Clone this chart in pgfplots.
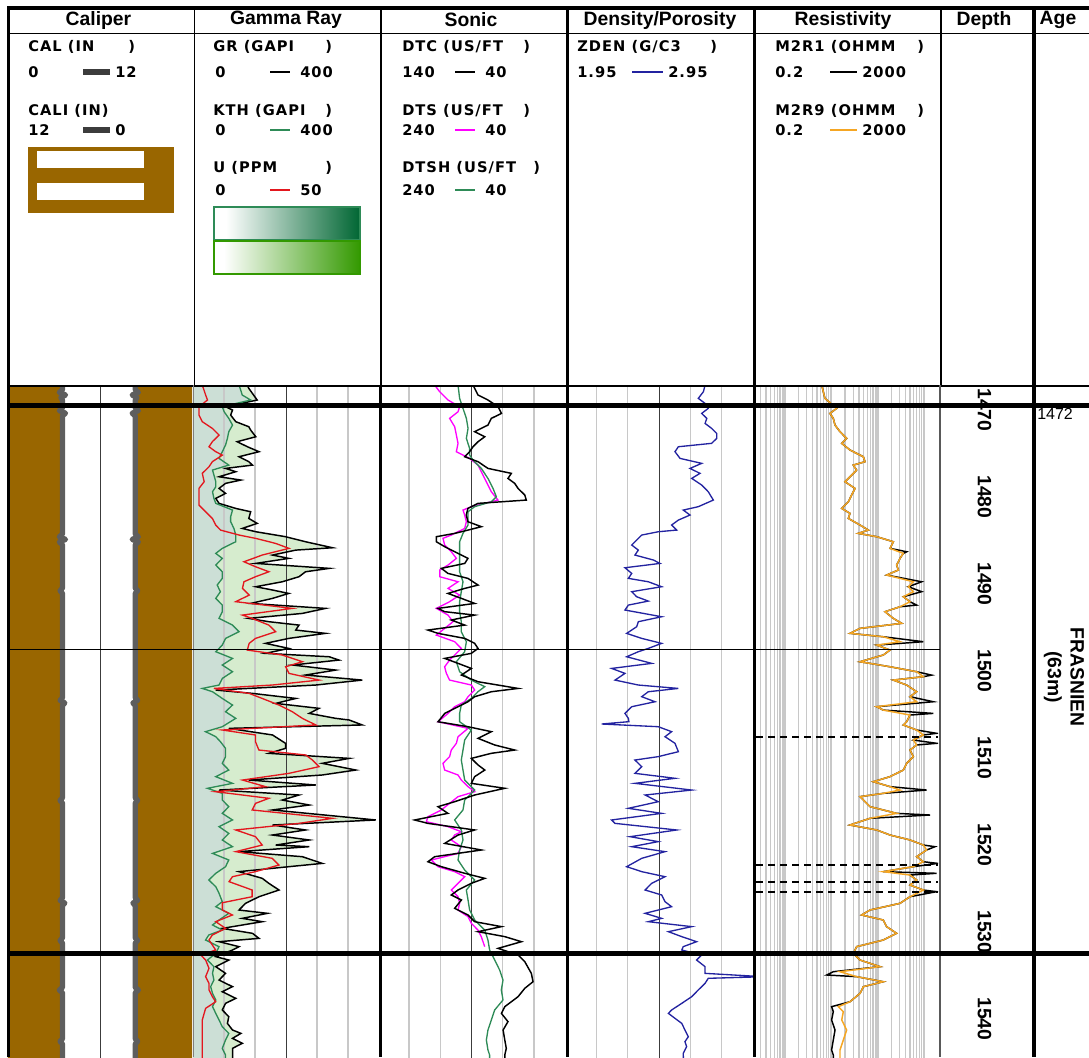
\documentclass[border=0pt]{standalone}
\usepackage{fontspec}
\setmainfont{Liberation Sans}
\newfontfamily\curvefont[LetterSpace=7]{DejaVu Sans}
\usepackage{pgfplots}
\pgfplotsset{compat=1.18}
\usepackage{pgfplotstable}

\definecolor{calbrown}{HTML}{996600}
\definecolor{calgray}{HTML}{5E5E5E}
\definecolor{legbar}{HTML}{3C3C3C}
\definecolor{kthgreen}{HTML}{2E8B57}
\definecolor{kthdark}{HTML}{006633}
\definecolor{grgreen}{HTML}{339900}
\definecolor{ured}{HTML}{E3171E}
\definecolor{dtsmag}{HTML}{FF00FF}
\definecolor{zdenblue}{HTML}{2323A0}
\definecolor{resorange}{HTML}{F5A623}
\definecolor{fillkth}{HTML}{CCDFD6}
\definecolor{fillgr}{HTML}{D6ECCE}
\definecolor{gridgray}{HTML}{C8C8C8}
\definecolor{griddark}{HTML}{3C3C3C}

\pgfplotsset{
  track/.style={scale only axis, anchor=north west, width=139.5pt, height=502.5pt,
    ymin=1469.885, ymax=1546.897, y dir=reverse, hide axis, clip=true},
}
\tikzset{
  glight/.style={draw=gridgray, line width=1.1pt},
  gdark/.style={draw=griddark, line width=0.75pt},
  calline/.style={calgray, line width=4pt, line join=round, line cap=round},
}
\newcommand{\cf}{\curvefont\bfseries\fontsize{11}{12}\selectfont}

% ---------------- log curves (depth in m) ----------------
\pgfplotstableread{
d v
1469.5 8.3
1470.2 8.3
1470.5 8.5
1470.8 8.1
1471.1 8.4
1471.4 8.3
1472.3 8.3
1472.6 8.5
1472.9 8.1
1473.2 8.3
1486.8 8.3
1487.1 8.5
1487.4 8.1
1487.7 8.5
1488.0 8.3
1493.0 8.3
1493.3 8.45
1493.6 8.3
1505.6 8.3
1505.9 8.45
1506.2 8.15
1506.5 8.3
1517.1 8.3
1517.4 8.45
1517.7 8.3
1528.6 8.3
1528.9 8.45
1529.2 8.15
1529.5 8.3
1533.2 8.3
1533.5 8.45
1533.8 8.3
1538.9 8.3
1539.2 8.5
1539.5 8.3
1544.8 8.3
1545.1 8.45
1545.4 8.3
1547.2 8.3
}\caltab

\pgfplotstableread{
d v
1469.5 8.45
1470.2 8.45
1470.5 8.65
1470.8 8.25
1471.1 8.55
1471.4 8.45
1472.3 8.45
1472.6 8.65
1472.9 8.25
1473.2 8.45
1486.8 8.45
1487.1 8.65
1487.4 8.25
1487.7 8.65
1488.0 8.45
1493.0 8.45
1493.3 8.6
1493.6 8.45
1505.6 8.45
1505.9 8.6
1506.2 8.3
1506.5 8.45
1517.1 8.45
1517.4 8.6
1517.7 8.45
1528.6 8.45
1528.9 8.6
1529.2 8.3
1529.5 8.45
1533.2 8.45
1533.5 8.6
1533.8 8.45
1538.9 8.45
1539.2 8.65
1539.5 8.45
1544.8 8.45
1545.1 8.6
1545.4 8.45
1547.2 8.45
}\calitab

\pgfplotstableread{
d v
1469.5 115
1470.04 120
1471.38 138
1472.15 70
1472.53 85
1473.11 81
1473.87 92
1474.45 120
1474.83 124
1475.60 135
1476.17 95
1476.75 117
1477.32 142
1477.90 99
1478.47 120
1478.86 128
1479.24 70
1479.62 92
1480.20 56
1480.58 103
1480.96 70
1481.54 56
1482.11 70
1482.69 49
1483.26 56
1483.84 92
1484.22 124
1484.99 120
1485.56 138
1486.14 106
1486.52 135
1487.09 199
1487.67 242
1488.36 300
1488.63 221
1489.20 171
1489.58 206
1490.16 135
1490.73 293
1491.12 242
1491.69 228
1492.27 192
1492.84 135
1493.22 171
1493.61 206
1494.18 171
1494.76 124
1495.33 285
1495.91 235
1496.48 120
1496.86 163
1497.25 228
1497.82 221
1498.20 285
1498.78 206
1499.35 156
1499.93 206
1500.50 156
1500.89 293
1501.27 314
1501.84 214
1502.42 307
1502.99 242
1503.57 364
1504.14 264
1504.72 49
1505.10 128
1505.68 221
1506.25 178
1506.82 271
1507.40 250
1507.97 307
1508.16 336
1508.73 364
1509.12 77
1509.88 171
1510.84 199
1511.42 199
1511.99 163
1512.57 336
1513.14 278
1513.91 350
1514.48 278
1515.06 120
1515.63 264
1516.21 56
1516.78 228
1517.36 192
1517.93 250
1518.50 171
1519.65 393
1520.23 171
1520.80 242
1521.38 171
1521.95 250
1522.53 178
1522.72 250
1523.29 99
1523.87 235
1524.64 278
1525.02 206
1525.59 99
1526.36 149
1526.93 163
1527.70 185
1528.47 142
1529.23 113
1530.00 99
1530.38 160
1530.96 106
1531.34 149
1532.11 63
1532.68 128
1533.26 142
1533.64 56
1534.21 99
1534.60 85
1535.36 49
1535.75 77
1536.51 49
1537.28 70
1538.05 56
1538.81 85
1539.39 63
1540.15 92
1540.73 70
1541.49 63
1542.26 77
1543.03 74
1543.79 85
1544.18 103
1544.75 85
1545.32 106
1545.90 85
1546.67 85
1547.20 85
}\grtab

\pgfplotstableread{
d v
1469.5 99
1469.66 99
1470.81 106
1471.38 124
1472.15 63
1472.73 67
1473.49 77
1474.26 85
1475.02 77
1475.79 74
1476.56 70
1477.32 63
1478.09 56
1478.86 77
1479.43 42
1480.00 45
1480.77 49
1481.35 49
1481.92 42
1482.69 45
1483.26 49
1484.03 85
1484.79 81
1485.37 81
1486.14 88
1486.90 92
1487.67 92
1488.43 63
1489.01 49
1489.58 63
1490.35 49
1491.12 63
1491.88 63
1492.65 52
1493.41 59
1494.18 49
1494.95 63
1495.71 63
1496.48 56
1497.25 85
1498.01 99
1498.78 70
1499.55 63
1500.31 49
1501.08 85
1501.84 63
1502.61 85
1503.38 63
1504.14 56
1504.53 20
1504.91 42
1505.68 63
1506.44 85
1507.21 70
1507.97 92
1508.93 63
1509.50 27
1510.08 49
1510.65 59
1511.42 70
1512.37 70
1513.14 63
1513.91 77
1514.67 49
1515.44 85
1516.01 31
1516.59 63
1517.36 63
1518.12 77
1518.89 63
1519.65 85
1520.42 56
1521.19 77
1521.95 63
1522.72 85
1523.49 42
1524.25 77
1525.02 70
1525.78 49
1526.55 34
1527.32 49
1528.08 56
1529.04 63
1529.62 49
1530.38 77
1531.15 56
1531.72 42
1532.30 63
1532.87 34
1533.45 27
1534.21 56
1534.98 49
1535.75 31
1536.51 45
1537.28 42
1538.05 45
1538.81 38
1539.58 42
1540.34 49
1541.11 42
1541.88 49
1542.64 56
1543.41 63
1544.18 77
1544.94 70
1545.90 63
1546.67 70
1547.20 70
}\kthtab

\pgfplotstableread{
d v
1469.5 2.5
1469.66 2.5
1470.81 3.4
1471.38 3.9
1472.15 1.6
1473.11 1.6
1473.87 2.5
1474.64 5.2
1475.41 7.0
1476.17 5.2
1476.75 4.3
1477.32 6.1
1477.71 7.9
1478.47 5.2
1479.05 4.3
1479.81 2.5
1480.77 3.0
1481.54 1.6
1482.30 1.6
1483.45 1.6
1484.22 3.4
1484.99 5.2
1485.75 6.1
1486.33 7.4
1486.90 12.4
1487.28 16.8
1487.86 22.2
1488.43 25.8
1489.20 18.6
1489.97 13.7
1490.54 16.8
1491.12 20.4
1491.69 16.8
1492.27 13.7
1493.03 13.3
1493.80 15.1
1494.56 11.5
1495.33 26.7
1496.10 13.3
1496.48 15.9
1497.25 20.4
1498.01 22.2
1498.78 16.8
1499.35 15.1
1500.12 14.6
1500.69 24.0
1501.46 29.4
1502.04 24.9
1502.80 25.8
1503.57 33.9
1504.14 21.3
1504.53 5.6
1505.10 15.1
1505.68 18.6
1506.44 23.1
1507.21 26.7
1507.97 29.4
1508.73 33.0
1509.31 7.9
1509.88 16.8
1510.65 16.8
1511.61 17.7
1512.18 30.3
1512.76 32.1
1513.52 33.9
1514.29 25.8
1515.06 13.3
1515.82 19.5
1516.40 6.1
1517.16 20.4
1517.74 16.8
1518.50 15.9
1519.46 37.5
1520.04 28.5
1520.80 11.5
1521.57 16.8
1522.53 18.6
1523.29 11.5
1524.06 21.3
1524.83 23.1
1525.59 16.8
1526.17 10.6
1526.74 9.7
1527.70 15.9
1528.47 15.9
1529.16 7.9
1530.00 7.9
1530.57 10.6
1531.34 6.1
1532.11 8.8
1532.87 5.2
1533.45 4.3
1534.60 6.1
1535.17 2.1
1535.75 3.4
1536.70 4.3
1537.66 3.4
1538.43 4.3
1539.19 4.3
1539.96 5.2
1540.54 6.1
1541.30 3.4
1541.88 3.0
1542.64 2.5
1544.56 2.5
1546.67 2.5
1547.20 2.5
}\utab

\pgfplotstableread{
d v
1469.5 89.2
1469.66 89.2
1470.81 86.5
1471.38 81.2
1472.15 75.8
1472.92 74.0
1473.49 79.4
1474.26 81.2
1475.02 88.3
1475.60 82.9
1476.17 86.5
1476.75 89.2
1477.32 91.0
1477.90 93.6
1478.47 86.5
1479.24 81.2
1479.81 68.7
1480.39 70.5
1480.96 66.9
1481.54 65.1
1482.30 61.5
1482.88 60.7
1483.26 86.5
1483.84 91.9
1484.60 92.8
1485.37 91.9
1485.94 84.7
1486.33 91.9
1486.71 99.0
1487.09 108.8
1487.67 108.8
1488.24 104.3
1488.82 99.0
1489.58 91.9
1490.16 93.6
1490.73 106.1
1491.31 102.6
1491.88 91.9
1492.65 86.5
1493.03 93.6
1493.61 102.6
1494.18 95.4
1494.76 88.3
1495.33 107.9
1495.71 104.3
1496.10 88.3
1496.67 100.8
1497.25 93.6
1497.82 113.3
1498.20 107.9
1498.78 93.6
1499.35 88.3
1499.93 86.5
1500.50 90.1
1501.08 104.3
1501.65 97.2
1502.23 90.1
1502.99 95.4
1503.76 86.5
1504.53 65.1
1504.91 79.4
1505.48 88.3
1506.06 91.9
1506.63 97.2
1507.40 104.3
1508.36 107.9
1508.93 91.9
1509.50 79.4
1510.27 86.5
1511.03 77.6
1511.61 66.9
1511.99 79.4
1512.57 90.1
1513.33 86.5
1513.91 82.9
1514.67 88.3
1515.44 90.1
1516.01 72.2
1516.78 88.3
1517.55 99.0
1518.12 107.9
1518.89 102.6
1519.65 120.4
1520.04 113.3
1520.80 88.3
1521.38 97.2
1522.34 104.3
1523.10 84.7
1523.87 109.7
1524.45 113.3
1525.02 106.1
1525.78 93.6
1526.36 82.9
1526.93 90.1
1527.70 97.2
1528.27 100.8
1528.85 95.4
1529.81 99.0
1530.57 91.9
1531.34 88.3
1531.91 74.0
1532.49 86.5
1533.06 72.2
1533.64 63.3
1534.41 75.8
1535.17 65.1
1535.94 61.5
1537.28 58.0
1538.24 57.1
1539.00 61.5
1539.96 65.1
1541.11 72.2
1541.88 74.0
1542.83 70.5
1543.79 73.1
1544.94 72.2
1545.90 71.4
1546.67 72.2
1547.20 72.2
}\dtctab

\pgfplotstableread{
d v
1469.5 179.4
1469.66 179.4
1470.43 174.0
1471.38 165.1
1472.15 152.7
1472.73 154.4
1473.49 163.4
1474.45 158.0
1475.41 156.2
1476.36 154.4
1477.32 156.2
1478.09 142.0
1478.86 133.1
1479.62 129.5
1480.39 125.9
1481.15 122.4
1481.92 118.8
1482.88 111.7
1483.64 140.2
1484.03 149.1
1484.60 147.3
1485.37 145.5
1486.14 147.3
1486.90 161.6
1487.28 170.5
1488.05 168.7
1488.82 161.6
1489.58 156.2
1490.35 165.1
1490.92 174.0
1491.69 174.0
1492.27 154.4
1493.03 165.1
1493.80 152.7
1494.56 163.4
1495.33 177.6
1496.10 165.1
1496.86 159.8
1497.63 168.7
1498.40 177.6
1499.16 158.0
1499.93 150.9
1500.69 158.0
1501.27 163.4
1502.04 168.7
1502.80 166.9
1503.57 163.4
1504.14 140.2
1504.72 136.6
1505.48 143.7
1506.06 147.3
1506.63 158.0
1507.40 165.1
1508.36 175.8
1509.12 143.7
1510.08 154.4
1510.84 156.2
1511.61 161.6
1512.37 163.4
1513.14 170.5
1513.91 168.7
1514.48 154.4
1515.06 150.9
1515.82 143.7
1516.40 136.6
1516.97 154.4
1517.74 163.4
1518.50 172.3
1519.27 186.5
1519.85 188.3
1520.42 165.1
1521.00 150.9
1521.38 158.0
1521.95 161.6
1522.72 150.9
1523.49 154.4
1524.25 183.0
1525.02 175.8
1525.59 158.0
1526.17 147.3
1526.93 154.4
1527.70 161.6
1528.47 154.4
1529.23 152.7
1530.00 154.4
1530.76 143.7
1531.53 140.2
1532.30 133.1
1533.06 129.5
1534.21 125.9
}\dtstab

\pgfplotstableread{
d v
1469.5 154.4
1469.66 154.4
1471.19 152.7
1472.34 149.1
1473.49 145.5
1474.64 143.7
1475.79 145.5
1476.94 142.0
1477.71 142.0
1478.28 138.4
1479.24 129.5
1480.39 122.4
1481.54 117.0
1482.50 113.4
1483.07 118.8
1483.64 136.6
1484.22 143.7
1485.75 143.7
1486.71 149.1
1487.67 152.7
1489.97 152.7
1491.12 152.7
1492.27 149.1
1493.41 150.9
1494.56 152.7
1495.71 152.7
1496.86 150.9
1498.01 150.9
1499.16 145.5
1500.31 147.3
1501.46 156.2
1502.61 152.7
1503.57 140.2
1504.33 125.9
1504.91 133.1
1505.68 140.2
1506.44 150.9
1507.40 152.7
1508.36 152.7
1509.31 140.2
1510.46 147.3
1511.61 149.1
1512.76 150.9
1513.91 149.1
1515.06 147.3
1516.21 136.6
1517.36 147.3
1518.50 149.1
1519.65 158.0
1520.80 150.9
1521.95 149.1
1523.10 152.7
1524.25 154.4
1525.40 147.3
1526.55 136.6
1527.70 145.5
1528.85 143.7
1530.00 142.0
1531.15 136.6
1532.30 125.9
1533.45 122.4
1534.60 120.6
1535.75 115.2
1536.90 109.9
1538.05 106.3
1539.19 108.1
1540.34 106.3
1541.49 115.2
1542.64 118.8
1543.79 122.4
1544.94 124.1
1546.09 122.4
1546.67 120.6
1547.20 120.6
}\dtshtab

\pgfplotstableread{
d v
1469.5 2.695
1469.66 2.695
1470.43 2.686
1471.19 2.659
1471.77 2.695
1472.34 2.712
1472.92 2.677
1473.49 2.704
1474.07 2.695
1474.64 2.730
1475.22 2.757
1475.79 2.757
1476.36 2.730
1476.75 2.553
1477.32 2.535
1478.09 2.562
1478.66 2.677
1479.24 2.615
1479.81 2.668
1480.39 2.624
1481.15 2.677
1481.92 2.712
1482.88 2.739
1483.64 2.659
1484.03 2.579
1484.60 2.615
1485.18 2.553
1485.75 2.517
1486.33 2.544
1486.52 2.446
1486.90 2.358
1487.48 2.331
1488.05 2.305
1488.63 2.340
1489.20 2.322
1489.77 2.420
1490.16 2.455
1490.66 2.269
1491.31 2.305
1491.88 2.287
1492.27 2.393
1492.84 2.464
1493.41 2.305
1493.99 2.331
1494.49 2.393
1494.95 2.287
1495.52 2.269
1496.29 2.464
1496.86 2.340
1497.44 2.331
1498.20 2.278
1498.78 2.358
1499.35 2.464
1499.93 2.393
1500.31 2.340
1500.89 2.278
1501.65 2.411
1502.23 2.198
1502.80 2.269
1503.57 2.216
1504.14 2.340
1504.53 2.553
1504.91 2.393
1505.48 2.358
1506.06 2.429
1506.63 2.305
1507.40 2.269
1507.97 2.287
1508.35 2.290
1508.62 2.145
1508.93 2.446
1509.50 2.517
1510.08 2.482
1510.84 2.535
1511.80 2.553
1512.37 2.446
1512.76 2.322
1513.52 2.358
1514.29 2.322
1514.86 2.535
1515.44 2.322
1516.21 2.624
1516.78 2.376
1517.55 2.446
1518.31 2.287
1518.89 2.464
1519.65 2.198
1520.04 2.216
1520.80 2.544
1521.57 2.296
1522.14 2.446
1522.72 2.305
1523.29 2.482
1524.06 2.358
1525.02 2.278
1525.59 2.358
1526.17 2.482
1526.93 2.411
1527.70 2.376
1528.27 2.464
1529.04 2.482
1529.62 2.517
1530.38 2.376
1530.96 2.464
1531.34 2.393
1531.91 2.624
1532.49 2.500
1533.06 2.571
1533.64 2.650
1534.21 2.579
1534.60 2.571
1535.17 2.677
1535.75 2.650
1536.51 2.695
1537.28 2.695
1537.60 2.952
1537.70 2.952
1537.85 2.712
1538.43 2.695
1539.19 2.659
1539.96 2.624
1540.73 2.571
1541.49 2.517
1541.88 2.500
1542.45 2.535
1543.03 2.571
1543.79 2.588
1544.56 2.606
1545.13 2.588
1545.71 2.597
1546.47 2.579
1547.20 2.580
}\zdentab

\pgfplotstableread{
d v
1469.5 6.3
1469.66 6.3
1471.19 7.4
1472.34 13.2
1472.92 9.5
1473.49 11.2
1474.26 12.2
1475.02 15.6
1475.79 21.7
1476.36 17.0
1477.13 25.6
1477.90 49.6
1478.47 53.8
1478.86 30.2
1479.43 35.6
1480.20 25.6
1480.77 20.0
1481.54 32.8
1482.30 27.8
1483.07 23.6
1483.84 17.0
1484.41 25.6
1484.99 23.6
1485.75 42.1
1486.33 63.5
1486.71 38.7
1487.09 96
1487.67 219
1488.43 186
1488.82 424
1489.01 359
1489.58 305
1490.35 258
1490.92 281
1491.50 157
1492.27 891
1492.84 460
1493.41 891
1493.99 359
1494.56 500
1494.95 695
1495.14 305
1495.71 145
1496.48 219
1497.05 331
1497.63 42.1
1498.20 25.6
1498.59 133
1499.16 968
1499.55 96
1500.12 186
1500.69 133
1501.46 42.1
1502.04 186
1502.61 695
1503.00 1462
1503.18 968
1503.57 219
1504.14 424
1504.91 695
1505.48 500
1506.06 1589
1506.63 96
1507.02 133
1507.40 1589
1507.59 500
1508.36 424
1508.73 359
1509.31 695
1509.69 1871
1509.88 968
1510.46 590
1510.84 1871
1511.03 695
1511.61 500
1512.37 590
1513.14 424
1513.91 359
1514.67 186
1515.25 81.3
1515.82 186
1516.21 1140
1516.59 133
1516.97 42.1
1517.55 53.8
1518.12 69.0
1518.89 258
1519.08 1346
1519.46 69.0
1520.23 25.6
1520.80 96
1521.38 186
1521.95 500
1522.53 968
1522.72 1722
1523.10 1140
1523.87 695
1524.45 968
1524.64 1990
1525.02 590
1525.59 133
1525.78 1871
1525.98 500
1526.55 695
1527.13 500
1527.70 968
1527.89 1871
1528.47 500
1529.23 305
1530.00 69.0
1530.57 45.6
1531.15 133
1531.91 157
1532.68 258
1533.45 133
1534.21 35.6
1534.98 30.2
1535.75 42.1
1536.51 113
1537.09 11.2
1537.47 8.1
1537.66 35.6
1538.24 133
1538.81 49.6
1539.58 42.1
1540.54 25.6
1541.11 10.3
1541.68 11.2
1542.64 10.3
1543.79 12.2
1544.94 11.2
1546.09 10.3
1546.67 11.2
1547.20 11.2
}\mrOnetab

\pgfplotstableread{
d v
1469.5 6.3
1469.66 6.3
1471.19 7.4
1472.34 13.2
1472.92 9.5
1473.49 11.2
1474.26 12.2
1475.02 15.6
1475.79 21.7
1476.36 17.0
1477.13 25.6
1477.90 49.6
1478.47 53.8
1478.86 30.2
1479.43 35.6
1480.20 25.6
1480.77 20.0
1481.54 32.8
1482.30 27.8
1483.07 23.6
1483.84 17.0
1484.41 25.6
1484.99 23.6
1485.75 42.1
1486.33 63.5
1486.71 38.7
1487.09 96
1487.67 219
1488.43 186
1489.01 359
1489.58 305
1490.35 258
1490.92 281
1491.50 157
1492.27 590
1492.84 460
1493.41 590
1493.99 359
1494.56 500
1495.14 305
1495.71 145
1496.48 219
1497.05 331
1497.63 42.1
1498.20 25.6
1498.59 133
1499.16 305
1499.55 96
1500.12 186
1500.69 133
1501.46 42.1
1502.04 186
1502.61 695
1503.18 968
1503.57 219
1504.14 424
1504.91 695
1505.48 500
1506.06 695
1506.63 96
1507.02 133
1507.59 500
1508.36 424
1508.73 359
1509.31 695
1509.88 968
1510.46 590
1511.03 695
1511.61 500
1512.37 590
1513.14 424
1513.91 359
1514.67 186
1515.25 81.3
1515.82 186
1516.21 305
1516.59 133
1516.97 42.1
1517.55 53.8
1518.12 69.0
1518.89 258
1519.46 69.0
1520.23 25.6
1520.80 96
1521.38 186
1521.95 500
1522.53 968
1523.10 1140
1523.87 695
1524.45 968
1525.02 590
1525.59 133
1525.98 500
1526.55 695
1527.13 500
1527.70 968
1528.47 500
1529.23 305
1530.00 69.0
1530.57 45.6
1531.15 133
1531.91 157
1532.68 258
1533.45 133
1534.21 35.6
1534.98 30.2
1535.75 42.1
1536.51 113
1537.09 15.6
1537.66 35.6
1538.24 133
1538.81 49.6
1539.58 42.1
1540.54 25.6
1541.11 14.4
1541.68 18.4
1542.64 17.0
1543.79 21.7
1544.94 18.4
1546.09 15.6
1546.67 15.6
1547.20 15.6
}\mrNinetab

\begin{document}
\begin{tikzpicture}

% ---------- Caliper track: CAL (0-12) and CALI (12-0), bit-side areas shaded ----------
\begin{axis}[track, at={(6pt,-290.25pt)}, width=138pt, xmin=0, xmax=12]
  \addplot[fill=calbrown, draw=none] table[x=v, y=d] {\caltab}
    -- (axis cs:12,1547.2) -- (axis cs:12,1469.5) -- cycle;
  \draw[gdark] (axis cs:6,1465) -- (axis cs:6,1550);
  \addplot[calline] table[x=v, y=d] {\caltab};
\end{axis}
\begin{axis}[track, at={(6pt,-290.25pt)}, width=138pt, xmin=0, xmax=12, x dir=reverse]
  \addplot[fill=calbrown, draw=none] table[x=v, y=d] {\calitab}
    -- (axis cs:12,1547.2) -- (axis cs:12,1469.5) -- cycle;
  \addplot[calline] table[x=v, y=d] {\calitab};
\end{axis}

% ---------- Gamma ray track: shaded areas ----------
\begin{axis}[track, at={(144.75pt,-290.25pt)}, xmin=0, xmax=400]
  \addplot[fill=fillgr, draw=none] table[x=v, y=d] {\grtab}
    -- (axis cs:0,1547.2) -- (axis cs:0,1469.5) -- cycle;
\end{axis}
\begin{axis}[track, at={(144.75pt,-290.25pt)}, xmin=0, xmax=400]
  \addplot[fill=fillkth, draw=none] table[x=v, y=d] {\kthtab}
    -- (axis cs:0,1547.2) -- (axis cs:0,1469.5) -- cycle;
\end{axis}
% ---------- Gamma ray track: GR and KTH (0-400), U (0-50) ----------
\begin{axis}[track, at={(144.75pt,-290.25pt)}, xmin=0, xmax=400]
  \draw[glight] (axis cs:66.67,1465) -- (axis cs:66.67,1550);
  \draw[glight] (axis cs:133.33,1465) -- (axis cs:133.33,1550);
  \draw[glight] (axis cs:266.67,1465) -- (axis cs:266.67,1550);
  \draw[glight] (axis cs:333.33,1465) -- (axis cs:333.33,1550);
  \draw[gdark] (axis cs:200,1465) -- (axis cs:200,1550);
  \addplot[black, line width=1.1pt] table[x=v, y=d] {\grtab};
  \addplot[kthgreen, line width=1pt] table[x=v, y=d] {\kthtab};
\end{axis}
\begin{axis}[track, at={(144.75pt,-290.25pt)}, xmin=0, xmax=50]
  \addplot[ured, line width=1pt] table[x=v, y=d] {\utab};
\end{axis}

% ---------- Sonic track: DTS, DTSH (240-40), DTC (140-40) ----------
\begin{axis}[track, at={(283.5pt,-290.25pt)}, width=140.25pt, xmin=40, xmax=240, x dir=reverse]
  \draw[glight] (axis cs:73.33,1465) -- (axis cs:73.33,1550);
  \draw[glight] (axis cs:106.67,1465) -- (axis cs:106.67,1550);
  \draw[glight] (axis cs:173.33,1465) -- (axis cs:173.33,1550);
  \draw[glight] (axis cs:206.67,1465) -- (axis cs:206.67,1550);
  \draw[gdark] (axis cs:140,1465) -- (axis cs:140,1550);
  \addplot[dtsmag, line width=1pt] table[x=v, y=d] {\dtstab};
  \addplot[kthgreen, line width=1pt] table[x=v, y=d] {\dtshtab};
\end{axis}
\begin{axis}[track, at={(283.5pt,-290.25pt)}, width=140.25pt, xmin=40, xmax=140, x dir=reverse]
  \addplot[black, line width=1.1pt] table[x=v, y=d] {\dtctab};
\end{axis}

% ---------- Density track: ZDEN (1.95-2.95) ----------
\begin{axis}[track, at={(423.75pt,-290.25pt)}, width=141pt, xmin=1.95, xmax=2.95]
  \draw[glight] (axis cs:2.1167,1465) -- (axis cs:2.1167,1550);
  \draw[glight] (axis cs:2.2833,1465) -- (axis cs:2.2833,1550);
  \draw[glight] (axis cs:2.6167,1465) -- (axis cs:2.6167,1550);
  \draw[glight] (axis cs:2.7833,1465) -- (axis cs:2.7833,1550);
  \draw[gdark] (axis cs:2.45,1465) -- (axis cs:2.45,1550);
  \addplot[zdenblue, line width=1pt] table[x=v, y=d] {\zdentab};
\end{axis}

% ---------- Resistivity track: M2R1, M2R9 (0.2-2000, log) ----------
\begin{axis}[track, at={(564pt,-290.25pt)}, xmode=log, xmin=0.2, xmax=2000]
  \pgfplotsinvokeforeach{0.3,0.4,0.5,0.6,0.7,0.8,0.9,2,3,4,5,6,7,8,9,20,30,40,50,60,70,80,90,200,300,400,500,600,700,800,900}{
    \draw[draw=gridgray, line width=0.8pt] (axis cs:#1,1465) -- (axis cs:#1,1550);
  }
  \pgfplotsinvokeforeach{1,10,100,1000}{
    \draw[draw=gridgray, line width=2pt] (axis cs:#1,1465) -- (axis cs:#1,1550);
  }
  \addplot[black, line width=1.1pt] table[x=v, y=d] {\mrOnetab};
  \addplot[resorange, line width=1.1pt] table[x=v, y=d] {\mrNinetab};
\end{axis}

% ---------- Depth track labels ----------
\begin{axis}[track, at={(705.75pt,-290.25pt)}, width=69pt, xmin=0, xmax=1]
  \addplot[draw=none] coordinates {(0,1470) (1,1540)};
  \pgfplotsinvokeforeach{1470,1480,1490,1500,1510,1520,1530,1540}{
    \node[rotate=-90, anchor=west, inner sep=0pt,
          font=\bfseries\fontsize{14.5}{14.5}\selectfont] at (axis cs:0.473,#1) {#1};
  }
\end{axis}

% ---------- frame, headers and legends ----------
\begin{scope}[x=0.75pt, y=-0.75pt]
  % titles
  \begin{scope}[every node/.style={font=\bfseries\fontsize{14.5}{16}\selectfont}]
    \node at (98.5,20) {Caliper};
    \node at (286,20) {Gamma Ray};
    \node at (471,20) {Sonic};
    \node at (660,20) {Density/Porosity};
    \node at (843,20) {Resistivity};
    \node at (984,20) {Depth};
    \node at (1058,20) {Age};
  \end{scope}

  \begin{scope}[every node/.style={anchor=west, inner sep=0pt, font=\cf}]
    % Caliper
    \node at (28,47) {CAL (IN};  \node at (128,47) {)};
    \node at (28,72) {0};  \fill[legbar] (83,69) rectangle (110,75);  \node at (115,72) {12};
    \node at (28,111) {CALI (IN)};
    \node at (28,130) {12};  \fill[legbar] (83,127) rectangle (110,133);  \node at (115,130) {0};
    % Gamma ray
    \node at (213,47) {GR (GAPI};  \node at (325,47) {)};
    \node at (215,72) {0};  \draw[black, line width=1pt] (270,72) -- (290,72);  \node at (300,72) {400};
    \node at (213,111) {KTH (GAPI};  \node at (325,111) {)};
    \node at (215,130) {0};  \draw[kthgreen, line width=1pt] (270,130) -- (290,130);  \node at (300,130) {400};
    \node at (213,168) {U (PPM};  \node at (325,168) {)};
    \node at (215,190) {0};  \draw[ured, line width=1pt] (270,190) -- (290,190);  \node at (300,190) {50};
    % Sonic
    \node at (402,47) {DTC (US/FT};  \node at (523,47) {)};
    \node at (402,72) {140};  \draw[black, line width=1pt] (455,72) -- (475,72);  \node at (485,72) {40};
    \node at (402,111) {DTS (US/FT};  \node at (523,111) {)};
    \node at (402,130) {240};  \draw[dtsmag, line width=1pt] (455,130) -- (475,130);  \node at (485,130) {40};
    \node at (402,168) {DTSH (US/FT};  \node at (533,168) {)};
    \node at (402,190) {240};  \draw[kthgreen, line width=1pt] (455,190) -- (475,190);  \node at (485,190) {40};
    % Density
    \node at (577,47) {ZDEN (G/C3};  \node at (710,47) {)};
    \node at (577,72) {1.95};  \draw[zdenblue, line width=1pt] (632,72) -- (663,72);  \node at (668,72) {2.95};
    % Resistivity
    \node at (775,47) {M2R1 (OHMM};  \node at (917,47) {)};
    \node at (775,72) {0.2};  \draw[black, line width=1pt] (830,72) -- (857,72);  \node at (862,72) {2000};
    \node at (775,111) {M2R9 (OHMM};  \node at (917,111) {)};
    \node at (775,130) {0.2};  \draw[resorange, line width=1pt] (830,130) -- (857,130);  \node at (862,130) {2000};
  \end{scope}

  % caliper fill legend
  \fill[calbrown] (28,147) rectangle (174,213);
  \fill[white] (37,151) rectangle (144,168);
  \fill[white] (37,183) rectangle (144,200);
  % gamma ray fill legends
  \fill[white] (214,207) rectangle (226,240);
  \shade[left color=white, right color=kthdark] (226,207) rectangle (360,240);
  \draw[kthgreen, line width=0.9pt] (214,207) rectangle (360,240);
  \fill[white] (214,241) rectangle (224,274);
  \shade[left color=white, right color=grgreen] (224,241) rectangle (360,274);
  \draw[grgreen, line width=0.9pt] (214,241) rectangle (360,274);

  % age column
  \node[anchor=west, inner sep=0pt, font=\fontsize{12}{12}\selectfont] at (1037,414) {1472};
  \node[rotate=-90, align=center, font=\bfseries\fontsize{14.5}{17}\selectfont] at (1064,677) {FRASNIEN\\(63m)};

  % dashed markers in the resistivity track
  \draw[black, line width=0.9pt, dash pattern=on 5 off 4] (756,737) -- (938,737);
  \draw[black, line width=0.9pt, dash pattern=on 5 off 4] (756,865) -- (938,865);
  \draw[black, line width=0.9pt, dash pattern=on 5 off 4] (756,882) -- (938,882);
  \draw[black, line width=0.9pt, dash pattern=on 5 off 4] (756,892) -- (938,892);

  % header frame
  \draw[line width=3pt] (7,7.5) -- (1089,7.5);
  \draw[line width=1.1pt] (8,33.5) -- (1089,33.5);
  \draw[line width=1.5pt] (8,385.5) -- (1089,385.5);
  \draw[line width=1.1pt] (194.5,8) -- (194.5,385);
  \draw[line width=1.5pt] (380.5,8) -- (380.5,385);
  \draw[line width=1.5pt] (940.5,8) -- (940.5,385);
  % track borders
  \draw[line width=2.25pt] (8.5,6) -- (8.5,1057);
  \draw[gray, line width=0.6pt] (193.5,385) -- (193.5,1057);
  \draw[line width=2.25pt] (380.5,385) -- (380.5,1057);
  \draw[line width=2.25pt] (567.5,8) -- (567.5,1057);
  \draw[line width=2.25pt] (754,8) -- (754,1057);
  \draw[gray!70!black, line width=1.8pt] (940,385) -- (940,1057);
  \draw[line width=3pt] (1034,8) -- (1034,1057);
  % formation tops and 1500 m line
  \draw[line width=0.75pt] (8,649) -- (940,649);
  \draw[line width=3.75pt] (8,405.4) -- (1089,405.4);
  \draw[line width=3.75pt] (8,953.5) -- (1089,953.5);
\end{scope}

% page size
\pgfresetboundingbox
\useasboundingbox (0pt,0pt) rectangle (816.75pt,-792.75pt);
\end{tikzpicture}
\end{document}
